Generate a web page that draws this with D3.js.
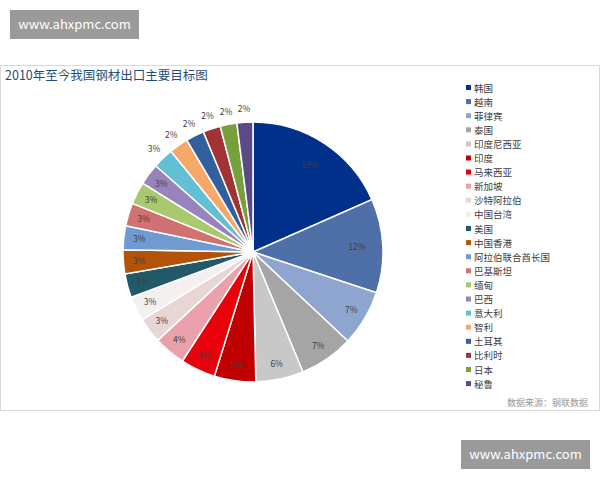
<!DOCTYPE html>
<html><head><meta charset="utf-8">
<script src="https://cdn.jsdelivr.net/npm/d3@7"></script>
<style>body{margin:0;background:#fff;font-family:"Noto Sans CJK SC","Noto Sans",sans-serif}</style>
</head><body>
<script>
const countries = ["韩国","越南","菲律宾","泰国","印度尼西亚","印度","马来西亚","新加坡","沙特阿拉伯","中国台湾","美国","中国香港","阿拉伯联合酋长国","巴基斯坦","缅甸","巴西","意大利","智利","土耳其","比利时","日本","秘鲁"];
const shares = [18.6,11.8,7.0,6.8,6.0,5.2,4.4,4.0,3.2,3.1,3.0,3.0,3.0,2.9,2.8,2.7,2.6,2.4,2.3,2.2,2.1,2.0];
const labels = ["19%","12%","7%","7%","6%","5%","4%","4%","3%","3%","3%","3%","3%","3%","3%","3%","3%","2%","2%","2%","2%","2%"];
const colors = ["#00308a","#4f6fa8","#8ea6cf","#a5a5a5","#c8c8c8","#c00000","#e8000b","#eba1ab","#e8d6d6","#f4f0f0","#215968","#b35309","#6f9bd2","#d07271","#a8c96e","#9983bd","#63bfd4","#f6a86a","#335f9e","#a23333","#75a03c","#5c4a86"];

const svg = d3.select("body").append("svg").attr("width", 600).attr("height", 480);

// watermark boxes
function mark(x, y) {
  svg.append("rect").attr("x", x).attr("y", y).attr("width", 129).attr("height", 29).attr("fill", "#9a9a9a");
  svg.append("text").attr("x", x + 64.5).attr("y", y + 19).attr("text-anchor", "middle")
    .attr("fill", "#fff").attr("font-size", 13).text("www.ahxpmc.com");
}
mark(10, 10);
mark(461, 440);

svg.append("rect").attr("x", 0.5).attr("y", 65.5).attr("width", 599).attr("height", 345)
  .attr("fill", "none").attr("stroke", "#d9d9d9");
svg.append("text").attr("x", 5).attr("y", 80).attr("fill", "#1f4e79").attr("font-size", 12.5)
  .text("2010年至今我国钢材出口主要目标图");
svg.append("text").attr("x", 588).attr("y", 406).attr("text-anchor", "end").attr("fill", "#999")
  .attr("font-size", 9).text("数据来源：钢联数据");

const cx = 253, cy = 252, r = 130;
const pie = d3.pie().sort(null).value(d => d)(shares);
const arc = d3.arc().innerRadius(0).outerRadius(r);
const g = svg.append("g").attr("transform", `translate(${cx},${cy})`);
g.selectAll("path").data(pie).join("path")
  .attr("d", arc).attr("fill", (d, i) => colors[i]).attr("stroke", "#fff").attr("stroke-width", 1.5);

g.selectAll("text").data(pie).join("text")
  .attr("transform", (d, i) => {
    const a = (d.startAngle + d.endAngle) / 2;
    const rr = i >= 16 ? r * 1.1 : (i < 2 ? r * 0.8 : r * 0.88);
    return `translate(${Math.sin(a) * rr},${-Math.cos(a) * rr + 3})`;
  })
  .attr("text-anchor", "middle").attr("font-size", 8.5).attr("fill", "#404040")
  .text((d, i) => labels[i]);

const leg = svg.append("g").attr("transform", "translate(466,88)");
const item = leg.selectAll("g").data(countries).join("g")
  .attr("transform", (d, i) => `translate(0,${i * 14.1})`);
item.append("rect").attr("x", 0).attr("y", -3).attr("width", 5).attr("height", 5)
  .attr("fill", (d, i) => colors[i]);
item.append("text").attr("x", 8).attr("y", 3.5).attr("font-size", 9.5).attr("fill", "#404040").text(d => d);
</script>
</body></html>
